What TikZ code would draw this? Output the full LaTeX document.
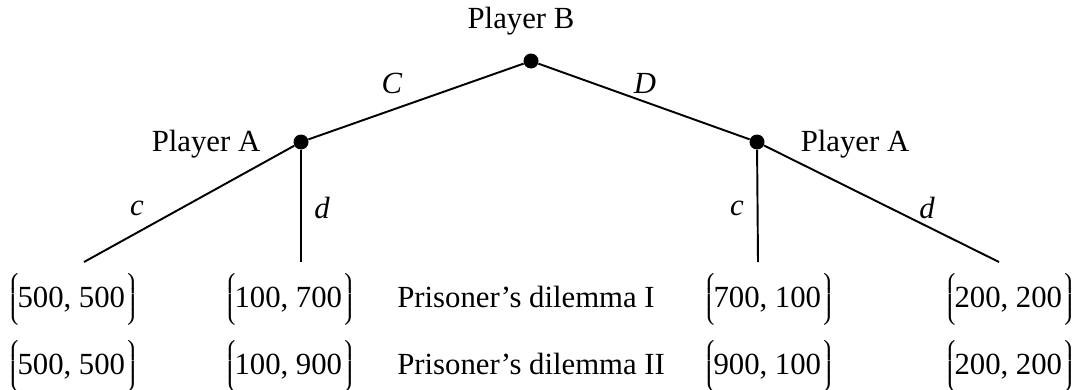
\documentclass[tikz,border=0pt]{standalone}
\usepackage{fontspec}
\setmainfont{Liberation Serif}
\newcommand{\payoff}[1]{$\left\lgroup\vphantom{\rule[-0.62em]{0pt}{1.8em}}\mkern-2mu\mbox{#1}\right\rgroup$}
\begin{document}
\fontsize{17.5}{21}\selectfont
\begin{tikzpicture}[x=0.02cm,y=-0.02cm,
    decision/.style={circle,fill=black,inner sep=0pt,minimum size=0.3cm},
    branch/.style={line width=1.1pt},
    payoffrow/.style={anchor=base,inner sep=0pt}]
    \useasboundingbox (0,0) rectangle (1077,389);

    % Player B
    \node[decision] (bnode) at (531,61) {};
    \node (blabel) at (521,21) {Player B};

    % Player A, both sides
    \node[decision] (aleft) at (301,142) {};
    \node (aleftlabel) at (206,144) {Player A};
    \node[decision] (aright) at (757,142) {};
    \node (arightlabel) at (855,144) {Player A};

    % Ends of the branches
    \coordinate (leafcc) at (84,262);
    \coordinate (leafcd) at (301,262);
    \coordinate (leafdc) at (758,262);
    \coordinate (leafdd) at (999,262);

    \draw[branch] (bnode) -- (aleft);
    \draw[branch] (bnode) -- (aright);
    \draw[branch] (aleft) -- (leafcc);
    \draw[branch] (aleft) -- (leafcd);
    \draw[branch] (aright) -- (leafdc);
    \draw[branch] (aright) -- (leafdd);

    % Moves
    \node (moveC) at (392,83) {\textit{C}};
    \node (moveD) at (645,83) {\textit{D}};
    \node (movecl) at (137,208) {\textit{c}};
    \node (movedl) at (322,208) {\textit{d}};
    \node (movecr) at (737,208) {\textit{c}};
    \node (movedr) at (927,208) {\textit{d}};

    % Payoffs, dilemma I
    \node[payoffrow] (pcc1) at (73,307) {\payoff{500, 500}};
    \node[payoffrow] (pcd1) at (290,307) {\payoff{100, 700}};
    \node[payoffrow,anchor=base west] (name1) at (397,307) {Prisoner's dilemma I};
    \node[payoffrow] (pdc1) at (769,307) {\payoff{700, 100}};
    \node[payoffrow] (pdd1) at (1010,307) {\payoff{200, 200}};

    % Payoffs, dilemma II
    \node[payoffrow] (pcc2) at (73,374) {\payoff{500, 500}};
    \node[payoffrow] (pcd2) at (290,374) {\payoff{100, 900}};
    \node[payoffrow,anchor=base west] (name2) at (397,374) {Prisoner's dilemma II};
    \node[payoffrow] (pdc2) at (769,374) {\payoff{900, 100}};
    \node[payoffrow] (pdd2) at (1010,374) {\payoff{200, 200}};
\end{tikzpicture}
\end{document}
